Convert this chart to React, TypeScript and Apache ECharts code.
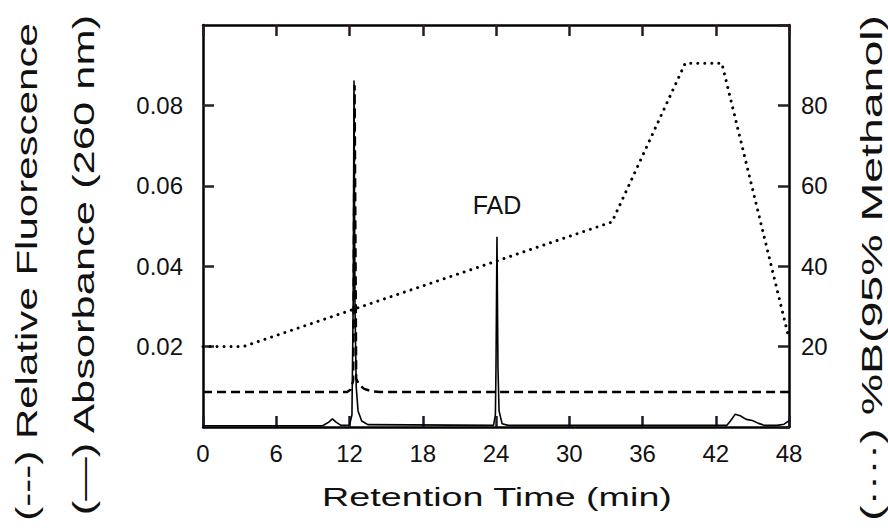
import React, { useEffect, useRef } from "react";
import * as echarts from "echarts";

// Tick labels shown on the right (%B) axis
const rightTickLabels = ["20", "40", "60", "80"];

// Absorbance (260 nm), solid line: [time (min), absorbance]
const absorbance: [number, number][] = [
  [0, 0.0003], [5, 0.0003], [9.8, 0.0003], [10.3, 0.0012], [10.6, 0.002], [10.9, 0.0012],
  [11.3, 0.0004], [12.0, 0.0005], [12.2, 0.003], [12.3, 0.03], [12.37, 0.0862], [12.45, 0.03],
  [12.55, 0.01], [12.7, 0.004], [13.0, 0.0015], [13.5, 0.0006], [23.8, 0.0004], [23.95, 0.003],
  [24.0, 0.015], [24.08, 0.0473], [24.16, 0.015], [24.25, 0.004], [24.5, 0.0008], [25.0, 0.0004],
  [42.9, 0.0004], [43.2, 0.0015], [43.6, 0.0032], [44.0, 0.0028], [44.5, 0.0019], [45.0, 0.0016],
  [45.5, 0.0009], [46.0, 0.0004], [47.0, 0.0004], [47.6, 0.0007], [48.0, 0.0016],
];

// Relative fluorescence, dashed line: [time (min), value on left scale]
const fluorescence: [number, number][] = [
  [0, 0.0087], [11.8, 0.0087], [12.1, 0.0093], [12.3, 0.0115], [12.42, 0.085], [12.55, 0.012],
  [12.8, 0.0105], [13.2, 0.0095], [13.8, 0.0089], [14.5, 0.0087], [48, 0.0087],
];

// %B (95% methanol) gradient, dotted line: [time (min), percent]
const gradient: [number, number][] = [
  [0, 20], [3.3, 20], [33.5, 51], [39.5, 90.5], [42.5, 90.5], [48, 22],
];

const FONT = "'Liberation Sans', Arial, Helvetica, sans-serif";

const mkLine = () => ({ show: true, onZero: false, lineStyle: { color: "#000", width: 2.5 } });
const mkTick = (color: string) => ({
  show: true, inside: true, length: 11, lineStyle: { color, width: 2.5, opacity: 1 },
});

export default function App() {
  const ref = useRef<HTMLDivElement>(null);
  useEffect(() => {
    if (!ref.current) return;
    const chart = echarts.init(ref.current, null, { renderer: "svg" });
    chart.setOption({
      animation: false,
      grid: { left: 203, right: 99, top: 25, bottom: 101 },
      xAxis: [
        {
          type: "value", position: "bottom", min: 0, max: 48, interval: 6,
          axisLine: mkLine(), axisTick: mkTick("#1a1a2a"), splitLine: { show: false },
          axisLabel: { show: true, margin: 14, fontSize: 24, color: "#111", fontFamily: FONT },
        },
        {
          type: "value", position: "top", min: 0, max: 48, interval: 6,
          axisLine: mkLine(), axisTick: mkTick("#2a1a1a"), splitLine: { show: false }, axisLabel: { show: false },
        },
      ],
      yAxis: [
        {
          type: "value", position: "left", min: 0, max: 0.1, interval: 0.02,
          axisLine: mkLine(), axisTick: mkTick("#1a2a1a"), splitLine: { show: false },
          axisLabel: {
            margin: 20, fontSize: 24, color: "#111", fontFamily: FONT,
            showMinLabel: false, showMaxLabel: false,
          },
        },
        {
          type: "value", position: "right", min: 0, max: 100, interval: 20,
          axisLine: mkLine(), axisTick: mkTick("#2a1a2a"), splitLine: { show: false },
          axisLabel: {
            margin: 12, fontSize: 24, color: "#111", fontFamily: FONT,
            formatter: (v: number) => (rightTickLabels.includes(String(v)) ? String(v) : ""),
          },
        },
      ],
      series: [
        {
          type: "line", name: "Absorbance", data: absorbance, xAxisIndex: 0, yAxisIndex: 0,
          showSymbol: false, lineStyle: { color: "#000", width: 1.6 }, z: 3,
        },
        {
          type: "line", name: "Fluorescence", data: fluorescence, xAxisIndex: 0, yAxisIndex: 0,
          showSymbol: false, lineStyle: { color: "#000", width: 2.4, type: [9, 5] }, z: 2,
        },
        {
          type: "line", name: "%B", data: gradient, xAxisIndex: 0, yAxisIndex: 1,
          showSymbol: false, lineStyle: { color: "#000", width: 3, type: [0.01, 7], cap: "round" }, z: 2,
        },
      ],
      graphic: [
        {
          type: "text", x: 27, y: 272, rotation: Math.PI / 2, scaleX: 1.45,
          style: { text: "(---) Relative Fluorescence", fontSize: 29, fontFamily: FONT, fill: "#111",
            textAlign: "center", textVerticalAlign: "middle", align: "center", verticalAlign: "middle" },
        },
        {
          type: "text", x: 84, y: 265, rotation: Math.PI / 2, scaleX: 1.5,
          style: { text: "(—) Absorbance (260 nm)", fontSize: 29, fontFamily: FONT, fill: "#111",
            textAlign: "center", textVerticalAlign: "middle", align: "center", verticalAlign: "middle" },
        },
        {
          type: "text", x: 872, y: 268, rotation: Math.PI / 2, scaleX: 1.55,
          style: { text: "(····) %B(95% Methanol)", fontSize: 30, fontFamily: FONT, fill: "#111",
            textAlign: "center", textVerticalAlign: "middle", align: "center", verticalAlign: "middle" },
        },
        {
          type: "text", x: 497, y: 497, scaleX: 1.45,
          style: { text: "Retention Time (min)", fontSize: 26, fontFamily: FONT, fill: "#111",
            textAlign: "center", textVerticalAlign: "middle", align: "center", verticalAlign: "middle" },
        },
        {
          type: "text", x: 497, y: 205,
          style: { text: "FAD", fontSize: 25, fontFamily: FONT, fill: "#111",
            textAlign: "center", textVerticalAlign: "middle", align: "center", verticalAlign: "middle" },
        },
      ],
    });
    return () => chart.dispose();
  }, []);
  return (
    <div
      ref={ref}
      style={{ position: "fixed", left: 0, top: 0, width: 888, height: 528, background: "#fff" }}
    />
  );
}
